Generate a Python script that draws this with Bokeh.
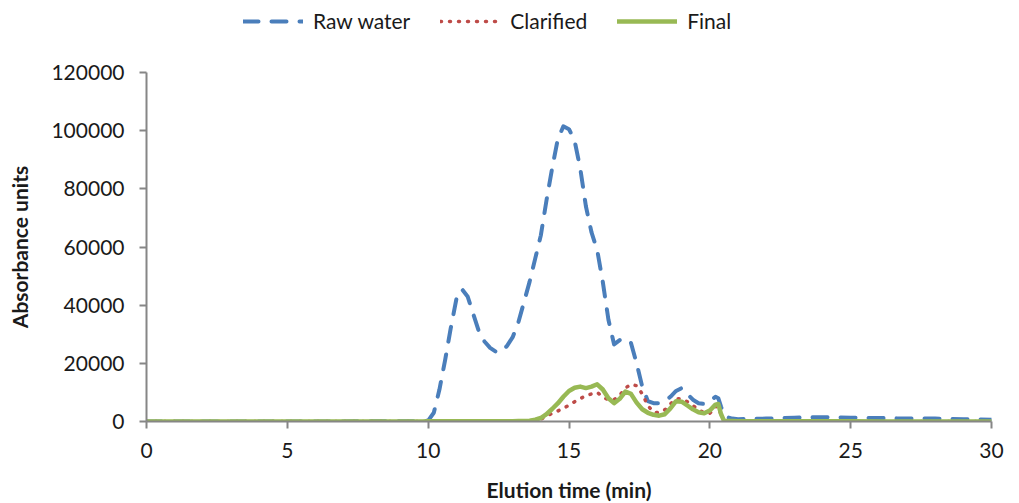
from bokeh.plotting import figure
from bokeh.layouts import column
from bokeh.models import Legend, LegendItem, FixedTicker, BasicTickFormatter, Label
from bokeh.embed import file_html
from bokeh.resources import INLINE

# Elution time (min)
time = [0, 5, 9.8,
        10.0, 10.2, 10.4, 10.6, 10.8, 11.0, 11.2, 11.4, 11.6, 11.8,
        12.0, 12.2, 12.4, 12.6, 12.8, 13.0, 13.2, 13.4, 13.6, 13.8,
        14.0, 14.2, 14.4, 14.6, 14.8, 15.0, 15.2, 15.4, 15.6, 15.8,
        16.0, 16.2, 16.4, 16.6, 16.8, 17.0, 17.2, 17.4, 17.6, 17.8,
        18.0, 18.2, 18.4, 18.6, 18.8, 19.0, 19.2, 19.4, 19.6, 19.8,
        20.0, 20.2, 20.3, 20.4, 20.5, 20.6, 20.8,
        21, 22, 23, 24, 25, 26, 27, 28, 29, 30]

raw_water = [0, 0, 100,
             300, 3000, 11000, 21000, 32000, 42000, 45500, 43000, 37000, 31000,
             27500, 25300, 24000, 24000, 26000, 29000, 34000, 41000, 48000, 56000,
             64000, 76000, 87000, 97000, 101500, 100500, 96500, 87000, 74000, 65000,
             59000, 48000, 35000, 26500, 28000, 28500, 27000, 20000, 12000, 7000,
             6300, 6300, 7000, 8500, 10500, 11500, 9500, 7500, 6300, 6000,
             7000, 8500, 8000, 5000, 2500, 1500, 1000,
             800, 1000, 1300, 1500, 1300, 1200, 1000, 1000, 800, 600]

clarified = [0, 0, 0,
             0, 0, 0, 0, 0, 0, 0, 0, 0, 0,
             0, 0, 0, 0, 0, 0, 0, 0, 0, 0,
             800, 1800, 2800, 3600, 4500, 5600, 6800, 7900, 8800, 9500,
             10000, 8500, 7400, 7500, 9000, 11500, 12800, 12300, 9500, 5500,
             3200, 3000, 4000, 6000, 7800, 7800, 6800, 5500, 4000, 3000,
             2800, 5000, 5500, 2000, 300, 0, 0,
             0, 0, 0, 0, 0, 0, 0, 0, 0, 0]

final = [0, 0, 0,
         100, 100, 100, 100, 100, 100, 100, 100, 100, 100,
         100, 100, 100, 100, 100, 100, 150, 200, 300, 600,
         1200, 2500, 4300, 6200, 8500, 10500, 11600, 12000, 11500, 12000,
         12800, 11000, 8000, 6300, 7800, 10300, 9500, 6500, 4200, 3000,
         2300, 2000, 2500, 4500, 7000, 6800, 5500, 4200, 3200, 2800,
         3800, 5800, 6000, 2500, 300, 200, 200,
         100, 100, 100, 100, 100, 0, 0, 0, 0, 0]

series_names = ["Raw water", "Clarified", "Final"]
x_ticks = [0, 5, 10, 15, 20, 25, 30]
y_ticks = [0, 20000, 40000, 60000, 80000, 100000, 120000]
x_title = "Elution time (min)"
y_title = "Absorbance units"

FONT = "Lato"
TXT = "#1a1a1a"
AX = "#868686"
STYLES = [dict(line_color="#4A7EBB", line_width=4, line_dash="15 13",
               line_cap="round", line_join="round"),
          dict(line_color="#BE4B48", line_width=3.5, line_dash="1 8",
               line_cap="round", line_join="round"),
          dict(line_color="#98B954", line_width=4.5,
               line_cap="round", line_join="round")]

W = 1011
LEFT, RIGHT = 146, 20
LEG_H, TITLE_H = 40, 34


def strip(h):
    f = figure(width=W, height=h, x_range=(0, 30), y_range=(0, 1),
               output_backend="svg", toolbar_location=None,
               x_axis_type=None, y_axis_type=None,
               min_border_left=LEFT, min_border_right=RIGHT,
               min_border_top=0, min_border_bottom=0)
    f.outline_line_color = None
    f.xgrid.visible = False
    f.ygrid.visible = False
    return f


p = figure(width=W, height=428, x_range=(0, 30), y_range=(0, 120000),
           output_backend="svg", toolbar_location=None,
           min_border_left=LEFT, min_border_right=RIGHT,
           min_border_top=72 - LEG_H, min_border_bottom=47)
p.outline_line_color = None
p.xgrid.visible = False
p.ygrid.visible = False

for ys, st in zip([raw_water, clarified, final], STYLES):
    p.line(time, ys, **st)

for ax in (p.xaxis[0], p.yaxis[0]):
    ax.axis_line_color = AX
    ax.axis_line_width = 2
    ax.major_tick_line_color = AX
    ax.major_tick_line_width = 2
    ax.major_tick_in = 0
    ax.major_tick_out = 7
    ax.minor_tick_line_color = None
    ax.major_label_text_font = FONT
    ax.major_label_text_font_size = "21px"
    ax.major_label_text_color = TXT
    ax.axis_label_text_font = FONT
    ax.axis_label_text_font_size = "21px"
    ax.axis_label_text_font_style = "bold"
    ax.axis_label_text_color = TXT

p.xaxis.ticker = FixedTicker(ticks=x_ticks)
p.yaxis.ticker = FixedTicker(ticks=y_ticks)
p.yaxis.formatter = BasicTickFormatter(use_scientific=False)
p.yaxis.axis_label = y_title
p.xaxis.major_label_standoff = 14
p.yaxis.major_label_standoff = 15
p.yaxis.axis_label_standoff = 16

# legend strip above the chart
lf = strip(LEG_H)
items = []
for name, st in zip(series_names, STYLES):
    r = lf.line([-10, -9], [-10, -10], **st)
    items.append(LegendItem(label=name, renderers=[r]))
legend = Legend(items=items, orientation="horizontal", location=(97, 7),
                glyph_width=60, glyph_height=20, label_standoff=10, spacing=30,
                padding=0, margin=0, border_line_color=None,
                background_fill_alpha=0,
                label_text_font=FONT, label_text_font_size="21px",
                label_text_color=TXT)
lf.add_layout(legend, "center")

# x-axis title strip below the chart
tf = strip(TITLE_H)
tf.add_layout(Label(x=15, y=13, y_units="screen", text=x_title,
                    text_align="center", text_baseline="middle",
                    text_font=FONT, text_font_size="21px",
                    text_font_style="bold", text_color=TXT))

layout = column(lf, p, tf, spacing=0)
open("out.html", "w").write(file_html(layout, INLINE))
